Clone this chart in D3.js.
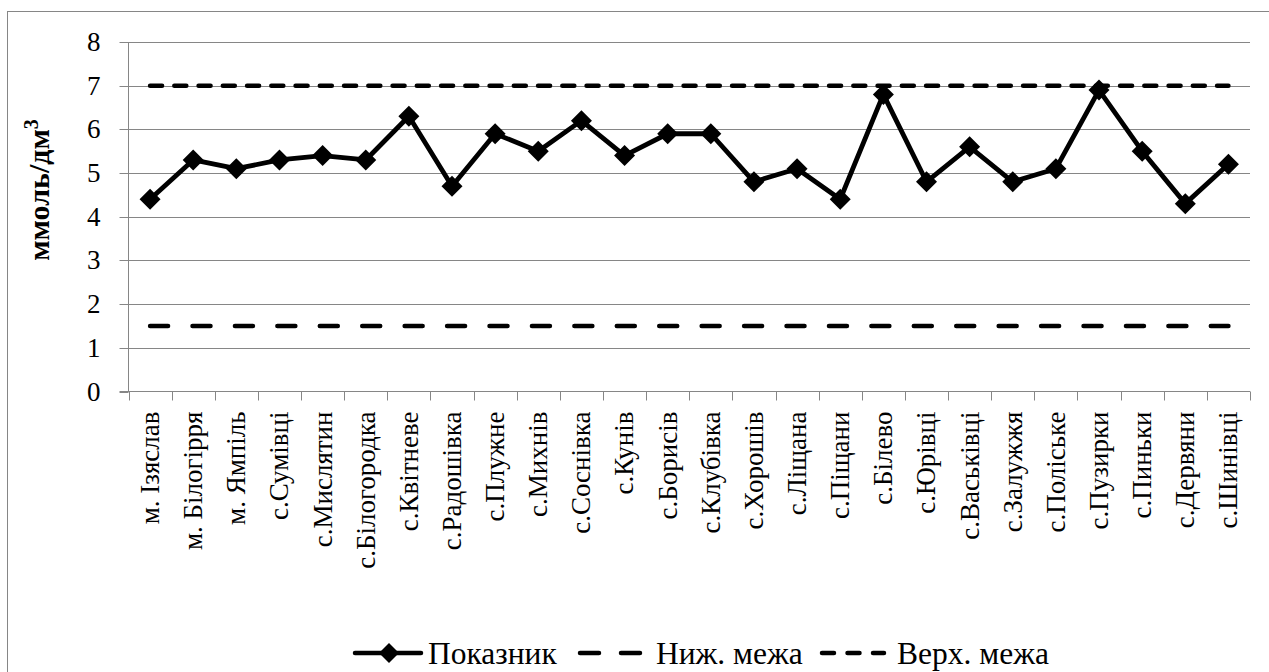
<!DOCTYPE html>
<html><head><meta charset="utf-8">
<script src="https://cdn.jsdelivr.net/npm/d3@7"></script>
<style>
html,body{margin:0;padding:0;background:#fff;}
svg{display:block;}
svg text{font-family:"Liberation Serif","Times New Roman",serif !important;fill:#000;}
</style></head>
<body>
<svg id="chart" width="1269" height="672" font-family="Liberation Serif"></svg>
<script>
const categories = ["м. Ізяслав","м. Білогірря","м. Ямпіль","с.Сумівці","с.Мислятин","с.Білогородка","с.Квітневе","с.Радошівка","с.Плужне","с.Михнів","с.Соснівка","с.Кунів","с.Борисів","с.Клубівка","с.Хорошів","с.Ліщана","с.Піщани","с.Білево","с.Юрівці","с.Васьківці","с.Залужжя","с.Поліське","с.Пузирки","с.Пиньки","с.Дервяни","с.Шинівці"];
const values = [4.4,5.3,5.1,5.3,5.4,5.3,6.3,4.7,5.9,5.5,6.2,5.4,5.9,5.9,4.8,5.1,4.4,6.8,4.8,5.6,4.8,5.1,6.9,5.5,4.3,5.2];
const lowerLimit = categories.map(() => 1.5);
const upperLimit = categories.map(() => 7);
const yTicks = [0,1,2,3,4,5,6,7,8];
const seriesNames = ["Показник","Ниж. межа","Верх. межа"];
const yTitle = "ммоль/дм";

const svg = d3.select("#chart");
const grid = "#868686";
const L = 128.5, R = 1250, T = 42, B = 391.5;
const serif = "Liberation Serif";

svg.append("rect").attr("x",7.5).attr("y",11.5).attr("width",1262).attr("height",670)
  .attr("fill","none").attr("stroke",grid).attr("stroke-width",1);

const x = d3.scaleBand().domain(categories).range([L,R]).padding(0);
const y = d3.scaleLinear().domain([0,8]).range([B,T]);
const cx = c => x(c) + x.bandwidth()/2;

// gridlines
svg.append("g").selectAll("line").data(yTicks.filter(t=>t>0)).join("line")
  .attr("x1",L).attr("x2",R).attr("y1",d=>Math.round(y(d))+0.5).attr("y2",d=>Math.round(y(d))+0.5)
  .attr("stroke",grid).attr("stroke-width",1);

// y axis
const yAxis = svg.append("g").attr("transform",`translate(${L},0)`)
  .call(d3.axisLeft(y).tickValues(yTicks).tickSize(9).tickPadding(19).tickFormat(d3.format("d")));
yAxis.attr("font-family",serif);
yAxis.select(".domain").attr("stroke",grid).attr("d",`M0,${T}V${B}`);
yAxis.selectAll(".tick line").attr("stroke",grid);
yAxis.selectAll(".tick").attr("transform",d=>`translate(0,${Math.round(y(d))+0.5})`);
yAxis.selectAll(".tick text").attr("font-family",serif).attr("font-size",27).attr("dy","0.33em");

// x axis
const xAxis = svg.append("g").attr("transform",`translate(0,${B})`)
  .call(d3.axisBottom(x).tickSize(0).tickFormat(""));
xAxis.select(".domain").attr("stroke",grid).attr("d",`M${L-9},0H${R}`);
xAxis.selectAll(".tick line").remove();
const bounds = categories.map(c=>x(c)).concat([R]);
svg.append("g").selectAll("line").data(bounds).join("line")
  .attr("x1",d=>Math.round(d)+0.5).attr("x2",d=>Math.round(d)+0.5)
  .attr("y1",B).attr("y2",B+9).attr("stroke",grid);
svg.append("g").selectAll("text").data(categories).join("text")
  .attr("transform",c=>`translate(${cx(c)},${B+20}) rotate(-90)`)
  .attr("text-anchor","end").attr("dy","0.33em").attr("font-family",serif)
  .attr("font-size",27).text(d=>d);

// y title
svg.append("text").attr("transform",`translate(38,190) rotate(-90)`)
  .attr("text-anchor","middle").attr("dy","0.35em").attr("font-weight","bold").attr("font-size",30).attr("font-family",serif)
  .call(t=>{t.append("tspan").text(yTitle);t.append("tspan").attr("baseline-shift","super").attr("font-size",20).text("3");});

// limit lines
const line = d3.line().x((d,i)=>cx(categories[i])).y(d=>y(d));
svg.append("path").datum(lowerLimit).attr("d",line).attr("fill","none").attr("stroke","#000")
  .attr("stroke-width",4.5).attr("stroke-linecap","round").attr("stroke-dasharray","18,24.43");
svg.append("path").datum(upperLimit).attr("d",line).attr("fill","none").attr("stroke","#000")
  .attr("stroke-width",4.5).attr("stroke-linecap","round").attr("stroke-dasharray","12,12.25");

// main series
svg.append("path").datum(values).attr("d",line).attr("fill","none").attr("stroke","#000")
  .attr("stroke-width",4.8).attr("stroke-linejoin","round");
const diamond = (px,py,r)=>`M${px},${py-r}L${px+r},${py}L${px},${py+r}L${px-r},${py}Z`;
svg.append("g").selectAll("path").data(values).join("path")
  .attr("d",(d,i)=>diamond(cx(categories[i]),y(d),10.5)).attr("fill","#000");

// legend
const ly = 653;
const lg = svg.append("g").attr("font-family",serif);
lg.append("line").attr("x1",355).attr("x2",421).attr("y1",ly).attr("y2",ly).attr("stroke","#000").attr("stroke-width",4.5).attr("stroke-linecap","round");
lg.append("path").attr("d",diamond(389,ly,10)).attr("fill","#000");
lg.append("text").attr("x",428).attr("y",ly).attr("dy","0.35em").attr("font-size",31.5).text(seriesNames[0]);
lg.append("line").attr("x1",580).attr("x2",640).attr("y1",ly).attr("y2",ly).attr("stroke","#000").attr("stroke-width",4.5).attr("stroke-linecap","round").attr("stroke-dasharray","19,22");
lg.append("text").attr("x",656).attr("y",ly).attr("dy","0.35em").attr("font-size",31.5).text(seriesNames[1]);
lg.append("line").attr("x1",822).attr("x2",884).attr("y1",ly).attr("y2",ly).attr("stroke","#000").attr("stroke-width",4.5).attr("stroke-linecap","round").attr("stroke-dasharray","12,13.5");
lg.append("text").attr("x",897).attr("y",ly).attr("dy","0.35em").attr("font-size",31.5).text(seriesNames[2]);
</script>
</body></html>
